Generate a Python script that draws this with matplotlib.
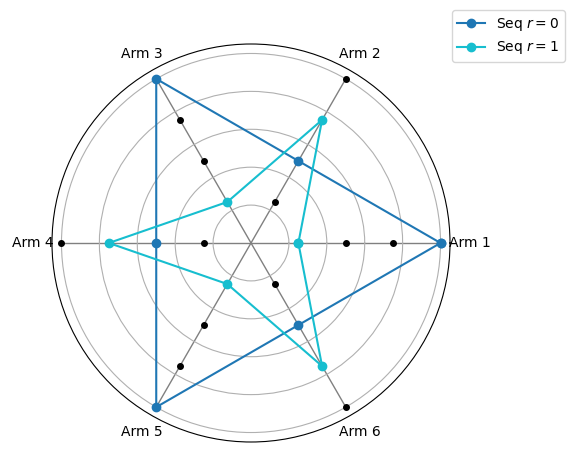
import numpy as np
import matplotlib.pyplot as plt

arms = ['Arm 1', 'Arm 2', 'Arm 3', 'Arm 4', 'Arm 5', 'Arm 6']
levels = [1, 2, 3, 4]
seq_r0 = [4, 2, 4, 2, 4, 2]
seq_r1 = [1, 3, 1, 3, 1, 3]

angles = np.arange(len(arms)) * 2 * np.pi / len(arms)

fig = plt.figure(figsize=(5.74, 4.54), dpi=100)
ax = fig.add_axes([52 / 574, 12 / 454, 398 / 574, 398 / 454], projection='polar')

# spokes with level markers
for a in angles:
    ax.plot([a, a], [0, levels[-1]], color='gray', lw=1, zorder=1)
    ax.plot([a] * len(levels), levels, 'o', color='black', ms=4, zorder=2)

ang_closed = np.append(angles, angles[0])
ax.plot(ang_closed, seq_r0 + seq_r0[:1], '-o', color='tab:blue', label='Seq $r=0$', zorder=3)
ax.plot(ang_closed, seq_r1 + seq_r1[:1], '-o', color='tab:cyan', label='Seq $r=1$', zorder=3)

ax.set_xticks(angles)
ax.set_xticklabels(arms)
ax.xaxis.grid(False)
ax.set_ylim(0, 4.2)
ax.set_yticks([0.8, 1.6, 2.4, 3.2, 4.0])
ax.set_yticklabels([])

fig.legend(loc='upper right', bbox_to_anchor=(565 / 574, 1 - 10 / 454), borderaxespad=0)

fig.savefig('out.png', dpi=100)
